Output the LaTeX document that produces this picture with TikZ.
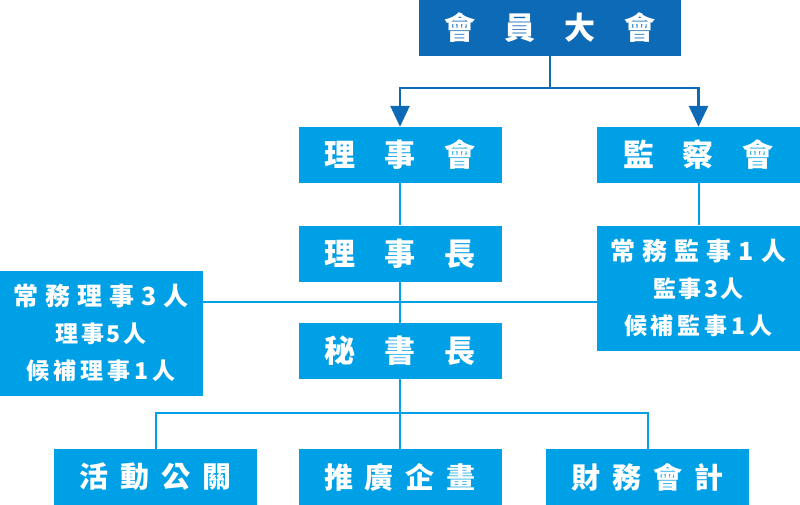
\documentclass[tikz,border=0pt]{standalone}
\usepackage{fontspec}
\setmainfont{Noto Sans CJK TC}
\usetikzlibrary{arrows.meta}
\definecolor{darkblue}{HTML}{0D6AB6}
\definecolor{lightblue}{HTML}{00A0E6}
\ExplSyntaxOn
\bool_new:N \l_spread_first_bool
\NewDocumentCommand\spreadtext{mm}
  {
    \bool_set_true:N \l_spread_first_bool
    \tl_map_inline:nn {#2}
      {
        \bool_if:NF \l_spread_first_bool { \hspace{#1} }
        \bool_set_false:N \l_spread_first_bool
        ##1
      }
  }
\ExplSyntaxOff
\tikzset{
  box/.style={fill=lightblue, text=white, minimum width=203pt, minimum height=56pt,
    inner sep=0pt, align=center},
  topbox/.style={box, fill=darkblue, minimum width=262pt},
  bigfont/.style={font=\bfseries\fontsize{31}{31}\selectfont},
  botfont/.style={font=\bfseries\fontsize{29}{29}\selectfont},
  listbox/.style={box, minimum height=125pt, font=\bfseries\fontsize{23}{37}\selectfont},
  dline/.style={draw=darkblue, line width=2.7pt},
  lline/.style={draw=lightblue, line width=2pt},
  tip/.style={-{Triangle[width=19pt,length=21pt]}}
}
\begin{document}
\begin{tikzpicture}[x=1pt,y=-1pt]
\useasboundingbox (0,0) rectangle (800,505);
% boxes
\node[topbox,bigfont] (top) at (550,28) {\spreadtext{29pt}{會員大會}};
\node[box,bigfont] (lj) at (400,155) {\spreadtext{29pt}{理事會}};
\node[box,bigfont] (jc) at (698.5,155) {\spreadtext{29pt}{監察會}};
\node[box,bigfont] (lsz) at (400,253.5) {\spreadtext{29pt}{理事長}};
\node[box,bigfont] (mss) at (400,351) {\spreadtext{29pt}{秘書長}};
\node[listbox] (left) at (101.25,333) {{\fontsize{25}{37}\selectfont\spreadtext{7pt}{常務理事3人}}\\
  \spreadtext{2.5pt}{理事5人}\\
  \spreadtext{4pt}{候補理事1人}};
\node[listbox] (right) at (698.5,288) {{\fontsize{25}{37}\selectfont\spreadtext{7pt}{常務監事1人}}\\
  \spreadtext{2.5pt}{監事3人}\\
  \spreadtext{4pt}{候補監事1人}};
\node[box,botfont] (b1) at (155.5,477) {\spreadtext{12pt}{活動公關}};
\node[box,botfont] (b2) at (400,477) {\spreadtext{12pt}{推廣企畫}};
\node[box,botfont] (b3) at (647.5,477) {\spreadtext{12pt}{財務會計}};
% connectors
\coordinate (ty) at (550,88);
\draw[dline] (top) -- (ty);
\draw[dline,tip] (ty) -| (lj);
\draw[dline,tip] (ty) -| (jc);
\draw[lline] (lj) -- (lsz);
\draw[lline] (lsz) -- (mss);
\draw[lline] (jc) -- (right);
\coordinate (hy) at (400,302);
\draw[lline] (left.east |- hy) -- (right.west |- hy);
\coordinate (by) at (400,413);
\draw[lline] (mss) -- (by);
\draw[lline] (by) -| (b1);
\draw[lline] (by) -- (b2);
\draw[lline] (by) -| (b3);
\end{tikzpicture}
\end{document}
